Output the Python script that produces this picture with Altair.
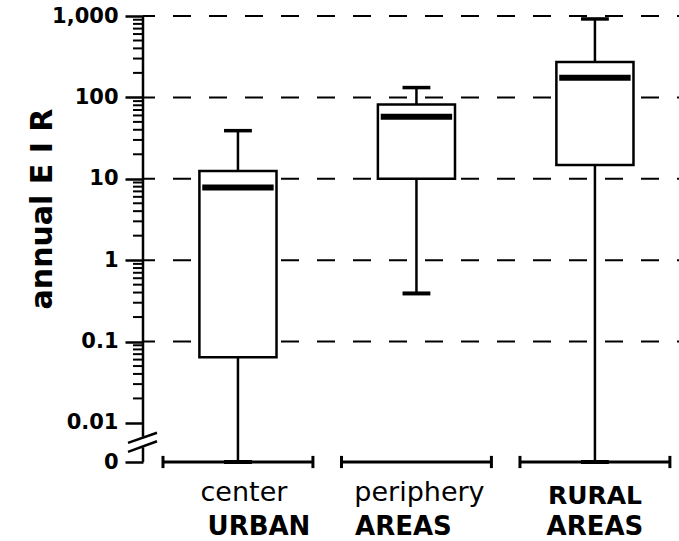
import math
import altair as alt
import pandas as pd

# ---------------- data ----------------
categories = ["center", "periphery", "rural"]
top_labels = ["center", "periphery", "RURAL"]
bottom_labels = ["URBAN", "AREAS", "AREAS"]
lows = [0, 0.39, 0]
q1s = [0.064, 10, 14.8]
medians = [7.8, 58, 174]
q3s = [12.5, 82, 273]
highs = [39, 132, 920]

tick_values = [0, 0.01, 0.1, 1, 10, 100, 1000]
tick_labels = ["0", "0.01", "0.1", "1", "10", "100", "1,000"]
grid_values = [0.1, 1, 10, 100, 1000]
y_title = "annual E I R"

# ---------------- styling / layout constants ----------------
ZERO = -2.48          # where "0" sits on the broken log axis (in decades)
TOP = 3.0
W, H = 536, 446
BOX_HW = 0.216
MED_HW = 0.2
CAP_HW = 0.078
BR_HW = 0.42
FONT = "DejaVu Sans"

def pos(v):
    return math.log10(v) if v > 0 else ZERO

def logcalc(field):
    return f"datum.{field} > 0 ? log(datum.{field}) / LN10 : {ZERO}"

yscale = alt.Scale(domain=[ZERO, TOP], nice=False, zero=False)
xscale = alt.Scale(domain=[-0.532, 2.471], nice=False, zero=False)

df = pd.DataFrame({
    "idx": list(range(len(categories))),
    "cat": categories,
    "low": lows, "q1": q1s, "med": medians, "q3": q3s, "high": highs,
})

base = alt.Chart(df).transform_calculate(
    ylow=logcalc("low"), yq1=logcalc("q1"), ymed=logcalc("med"),
    yq3=logcalc("q3"), yhigh=logcalc("high"),
    bl=f"datum.idx - {BOX_HW}", br=f"datum.idx + {BOX_HW}",
    ml=f"datum.idx - {MED_HW}", mr=f"datum.idx + {MED_HW}",
    cl=f"datum.idx - {CAP_HW}", cr=f"datum.idx + {CAP_HW}",
    kl=f"datum.idx - {BR_HW}", kr=f"datum.idx + {BR_HW}",
    yz=f"{ZERO}", yz1=f"{ZERO} - 0.075", yz2=f"{ZERO} + 0.075",
)

# y axis (major ticks + labels)
major_pos = [pos(v) for v in tick_values]
expr = "''"
for p, lab in zip(major_pos, tick_labels):
    expr = f"abs(datum.value - ({p})) < 1e-6 ? '{lab}' : ({expr})"

yaxis = alt.Axis(
    values=major_pos, labelExpr=expr, tickSize=18, tickWidth=2.5, tickColor="black",
    domain=False, grid=False, labelFont=FONT, labelFontSize=21, labelFontWeight="bold",
    labelColor="black", labelPadding=7, labelOverlap=False, labelFlush=False, title=None,
)

def X(f):
    return alt.X(f, scale=xscale, axis=None)

def Y(f):
    return alt.Y(f, scale=yscale, axis=yaxis)

# dashed grid
grid = alt.Chart(pd.DataFrame({"v": grid_values})).transform_calculate(
    ly=logcalc("v")
).mark_rule(color="black", strokeWidth=2, strokeDash=[18, 18], strokeDashOffset=16).encode(
    y=Y("ly:Q")
)

boxes = base.mark_rect(fill="white", stroke="black", strokeWidth=2.5).encode(
    x=X("bl:Q"), x2="br:Q", y=Y("yq1:Q"), y2="yq3:Q"
)
wh_up = base.mark_rule(color="black", strokeWidth=2.5).encode(
    x=X("idx:Q"), y=Y("yq3:Q"), y2="yhigh:Q"
)
wh_lo = base.mark_rule(color="black", strokeWidth=2.5).encode(
    x=X("idx:Q"), y=Y("ylow:Q"), y2="yq1:Q"
)
med = base.mark_rule(color="black", strokeWidth=6).encode(
    x=X("ml:Q"), x2="mr:Q", y=Y("ymed:Q")
)
cap_hi = base.mark_rule(color="black", strokeWidth=3.5).encode(
    x=X("cl:Q"), x2="cr:Q", y=Y("yhigh:Q")
)
cap_lo = base.mark_rule(color="black", strokeWidth=4).encode(
    x=X("cl:Q"), x2="cr:Q", y=Y("ylow:Q")
)
bracket = base.mark_rule(color="black", strokeWidth=3).encode(
    x=X("kl:Q"), x2="kr:Q", y=Y("yz:Q")
)
br_l = base.mark_rule(color="black", strokeWidth=3).encode(
    x=X("kl:Q"), y=Y("yz1:Q"), y2="yz2:Q"
)
br_r = base.mark_rule(color="black", strokeWidth=3).encode(
    x=X("kr:Q"), y=Y("yz1:Q"), y2="yz2:Q"
)

# axis line with a break, and break marks
axis_seg = pd.DataFrame({"a": [ZERO, -2.17], "b": [-2.30, TOP]})
axis_line = alt.Chart(axis_seg).mark_rule(color="black", strokeWidth=2.5).encode(
    x=alt.value(0), y=Y("a:Q"), y2="b:Q"
)
brk = pd.DataFrame({"a": [-2.245, -2.355], "b": [-2.12, -2.225]})
break_marks = alt.Chart(brk).mark_rule(color="black", strokeWidth=2.5).encode(
    x=alt.value(-15), x2=alt.value(14), y=Y("a:Q"), y2="b:Q"
)

# minor log ticks
minor = [math.log10(k) + d for d in range(-2, 3) for k in range(2, 10)]
minor_ticks = alt.Chart(pd.DataFrame({"m": minor})).mark_rule(color="black", strokeWidth=2).encode(
    x=alt.value(-10), x2=alt.value(0), y=Y("m:Q")
)

# y title
ytitle = alt.Chart(pd.DataFrame({"t": [y_title]})).mark_text(
    angle=270, align="center", baseline="alphabetic", font=FONT, fontSize=30,
    fontWeight="bold", color="black"
).encode(text="t:N", x=alt.value(-91), y=alt.value(193))

# category labels
label_layers = []
top_style = [dict(dx=6, y=485, bold=False, size=27), dict(dx=3, y=485, bold=False, size=27),
             dict(dx=0, y=488, bold=True, size=25)]
bot_style = [dict(dx=21, y=519), dict(dx=-13, y=519), dict(dx=0, y=519)]
for i in range(len(categories)):
    s = top_style[i]
    label_layers.append(
        alt.Chart(pd.DataFrame({"idx": [i], "t": [top_labels[i]]})).mark_text(
            font=FONT, fontSize=s["size"],
            fontWeight="bold" if s["bold"] else "normal",
            color="black", align="center", baseline="alphabetic", dx=s["dx"]
        ).encode(x=X("idx:Q"), y=alt.value(s["y"]), text="t:N")
    )
    s = bot_style[i]
    label_layers.append(
        alt.Chart(pd.DataFrame({"idx": [i], "t": [bottom_labels[i]]})).mark_text(
            font=FONT, fontSize=26, fontWeight="bold",
            color="black", align="center", baseline="alphabetic", dx=s["dx"]
        ).encode(x=X("idx:Q"), y=alt.value(s["y"]), text="t:N")
    )

chart = alt.layer(
    grid, wh_up, wh_lo, boxes, med, cap_hi, cap_lo, bracket, br_l, br_r,
    axis_line, break_marks, minor_ticks, ytitle, *label_layers
).properties(
    width=W, height=H,
    autosize=alt.AutoSizeParams(type="none"),
    padding={"left": 143, "top": 16, "right": 0, "bottom": 79},
    background="white",
).configure_view(stroke=None)

chart.save("out.html", embed_options={"renderer": "svg", "actions": False})
